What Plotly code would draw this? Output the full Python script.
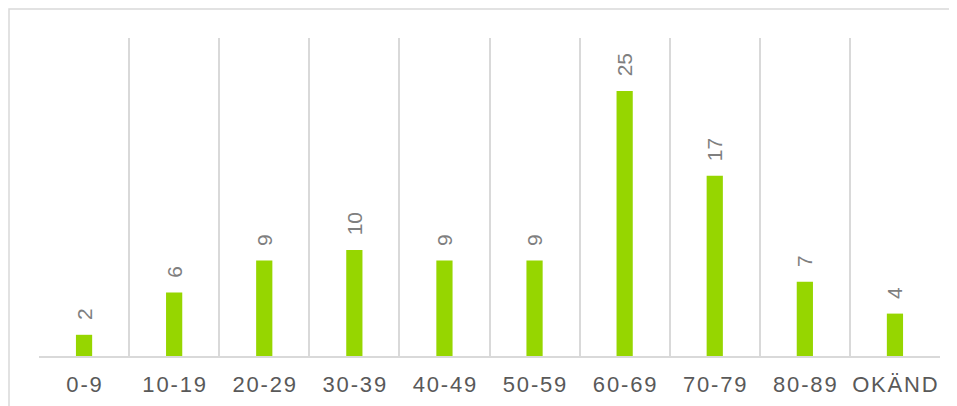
import plotly.graph_objects as go

categories = ["0-9", "10-19", "20-29", "30-39", "40-49", "50-59", "60-69", "70-79", "80-89", "OKÄND"]
values = [2, 6, 9, 10, 9, 9, 25, 17, 7, 4]

SP = "\u200a"
ticktext = [SP.join(list(c)) for c in categories]
labels = ["\u00a0\u00a0" + str(v) for v in values]

fig = go.Figure()
fig.add_trace(go.Bar(
    x=categories,
    y=values,
    width=0.18,
    marker=dict(color="#96D600", line=dict(width=0)),
    text=labels,
    textposition="outside",
    textangle=-90,
    constraintext="none",
    textfont=dict(family="Liberation Sans, Arial, sans-serif", size=21, color="#7F7F7F"),
    cliponaxis=False,
    hoverinfo="skip",
))

fig.update_layout(
    width=957, height=406,
    margin=dict(l=31, r=25, t=30, b=58, autoexpand=False),
    paper_bgcolor="white", plot_bgcolor="white",
    showlegend=False,
    font=dict(family="Liberation Sans, Arial, sans-serif"),
    xaxis=dict(
        type="category",
        range=[-0.5, len(categories) - 0.5],
        tickmode="array",
        tickvals=categories,
        ticktext=ticktext,
        tickson="boundaries",
        ticks="",
        tickangle=0,
        automargin=False,
        showgrid=True, gridcolor="#D9D9D9", gridwidth=1.5,
        showline=True, linecolor="#D9D9D9", linewidth=1.5,
        tickfont=dict(size=22, color="#595959"),
        ticklabelstandoff=8,
        zeroline=False,
    ),
    yaxis=dict(range=[0, 30], visible=False, showgrid=False, zeroline=False),
    shapes=[dict(
        type="rect", xref="paper", yref="paper",
        x0=-30 / 901, x1=1.2, y0=-0.5, y1=347 / 318,
        line=dict(color="#D9D9D9", width=1.5), fillcolor="rgba(0,0,0,0)", layer="below",
    )],
)

fig.write_html("out.html")
